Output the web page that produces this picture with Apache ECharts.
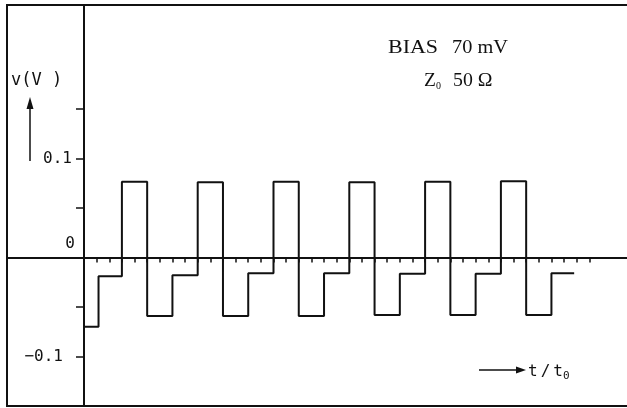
<!DOCTYPE html>
<html><head><meta charset="utf-8">
<script src="https://cdn.jsdelivr.net/npm/echarts@6/dist/echarts.min.js"></script>
<style>html,body{margin:0;padding:0;background:#fff}#c{width:627px;height:408px}</style>
</head><body><div id="c"></div>
<script>
// Time in units of the small tick spacing along t/t0
const tEdges = [0, 1.15, 3, 5, 7, 9, 11, 13, 15, 17, 19, 21, 23, 25, 27, 29, 31, 33, 35, 37, 38.8];
// Voltage level (V) held from each edge to the next
const vLevels = [-0.070, -0.019, 0.0765, -0.059, -0.018, 0.076, -0.059, -0.016, 0.0765, -0.059, -0.016,
                 0.076, -0.058, -0.0165, 0.0765, -0.058, -0.0165, 0.077, -0.058, -0.016, -0.016];
const yTickValues = [-0.1, -0.05, 0.05, 0.1, 0.15];
const yLabelValues = [-0.1, 0, 0.1];
const yLabelTexts = ['−0.1', '0', '0.1'];
const xTickValues = [];
for (let k = 1; k <= 40; k++) xTickValues.push(k);
const yAxisTitle = 'v(V )';
const xAxisTitle = ['t', '/', 't', '0'];
const noteBias = ['BIAS', '70 mV'];
const noteZ = ['Z', '0', '50 Ω'];

const INK = '#111';
const MONO = '"DejaVu Sans Mono", monospace';
const SERIF = '"Liberation Serif", "DejaVu Serif", serif';
const Y_MIN = -0.15, Y_MAX = 0.255;

const seriesData = tEdges.map((t, i) => [t, vLevels[i]]);

const chart = echarts.init(document.getElementById('c'), null, {renderer: 'canvas'});
chart.setOption({
  animation: false,
  backgroundColor: '#fff',
  grid: [
    {left: 84, right: -2, top: 5, bottom: 2, show: true, borderColor: INK, borderWidth: 2,
     backgroundColor: 'transparent', containLabel: false, outerBoundsMode: 'none'},
    {left: 7, width: 77, top: 5, bottom: 2, show: true, borderColor: INK, borderWidth: 2,
     backgroundColor: 'transparent', containLabel: false, outerBoundsMode: 'none'}
  ],
  xAxis: [{
    gridIndex: 0, type: 'value', min: 0, max: 43.14,
    axisLine: {onZero: true, lineStyle: {color: INK, width: 2}},
    axisTick: {show: true, length: 5, customValues: xTickValues, lineStyle: {color: INK, width: 1.5}},
    axisLabel: {show: false},
    splitLine: {show: false}
  }, {
    gridIndex: 1, type: 'value', min: 0, max: 1,
    axisLine: {onZero: true, lineStyle: {color: INK, width: 2}},
    axisTick: {show: false}, axisLabel: {show: false}, splitLine: {show: false}
  }],
  yAxis: [{
    gridIndex: 0, type: 'value', min: Y_MIN, max: Y_MAX,
    axisLine: {onZero: false, lineStyle: {color: INK, width: 2}},
    axisTick: {show: true, length: 8, customValues: yTickValues, lineStyle: {color: INK, width: 1.5}},
    axisLabel: {
      show: true, margin: 9, customValues: yLabelValues,
      formatter: function (v) {
        const i = yLabelValues.findIndex(x => Math.abs(x - v) < 1e-9);
        const txt = i >= 0 ? yLabelTexts[i] : '';
        if (Math.abs(v) < 1e-9) return '{z|' + txt + '}';
        if (v < 0) return '{m|' + txt + '}';
        return '{p|' + txt + '}';
      },
      rich: {
        z: {fontFamily: MONO, fontSize: 16, color: INK, padding: [0, 0, 28, 0]},
        m: {fontFamily: MONO, fontSize: 16, color: INK, padding: [0, 12, 0, 0]},
        p: {fontFamily: MONO, fontSize: 16, color: INK, padding: [0, 3, 0, 0]}
      }
    },
    splitLine: {show: false}
  }, {
    gridIndex: 1, type: 'value', min: Y_MIN, max: Y_MAX,
    axisLine: {show: false, onZero: false}, axisTick: {show: false}, axisLabel: {show: false}, splitLine: {show: false}
  }],
  series: [{
    type: 'line', xAxisIndex: 0, yAxisIndex: 0, step: 'end', symbol: 'none', data: seriesData,
    lineStyle: {color: INK, width: 2}
  }],
  graphic: [
    {type: 'text', x: 11, y: 81, style: {text: yAxisTitle, font: '17px ' + MONO, fill: INK, verticalAlign: 'middle'}},
    {type: 'line', shape: {x1: 30, y1: 161, x2: 30, y2: 105}, style: {stroke: INK, lineWidth: 1.5}},
    {type: 'polygon', shape: {points: [[30, 97], [26.5, 109], [33.5, 109]]}, style: {fill: INK}},
    {type: 'text', x: 388, y: 48, scaleX: 1.22, style: {text: noteBias[0], font: '18px ' + SERIF, fill: INK, verticalAlign: 'middle'}},
    {type: 'text', x: 452, y: 48, scaleX: 1.13, style: {text: noteBias[1], font: '18px ' + SERIF, fill: INK, verticalAlign: 'middle'}},
    {type: 'text', x: 424, y: 81, scaleX: 1.08, style: {text: noteZ[0], font: '18px ' + SERIF, fill: INK, verticalAlign: 'middle'}},
    {type: 'text', x: 436, y: 86, style: {text: noteZ[1], font: '10px ' + SERIF, fill: INK, verticalAlign: 'middle'}},
    {type: 'text', x: 453, y: 81, scaleX: 1.1, style: {text: noteZ[2], font: '18px ' + SERIF, fill: INK, verticalAlign: 'middle'}},
    {type: 'line', shape: {x1: 479, y1: 370, x2: 519, y2: 370}, style: {stroke: INK, lineWidth: 1.5}},
    {type: 'polygon', shape: {points: [[526, 370], [516, 366.5], [516, 373.5]]}, style: {fill: INK}},
    {type: 'text', x: 528, y: 372, style: {
      text: '{t|' + xAxisTitle[0] + '}{sl|' + xAxisTitle[1] + '}{t|' + xAxisTitle[2] + '}{s|' + xAxisTitle[3] + '}',
      verticalAlign: 'middle',
      rich: {
        t: {fontFamily: MONO, fontSize: 16, fill: INK},
        sl: {fontFamily: MONO, fontSize: 16, fill: INK, padding: [0, 3, 0, 3]},
        s: {fontFamily: MONO, fontSize: 11, fill: INK, padding: [8, 0, 0, 0]}
      }
    }}
  ]
});
</script>
</body></html>
